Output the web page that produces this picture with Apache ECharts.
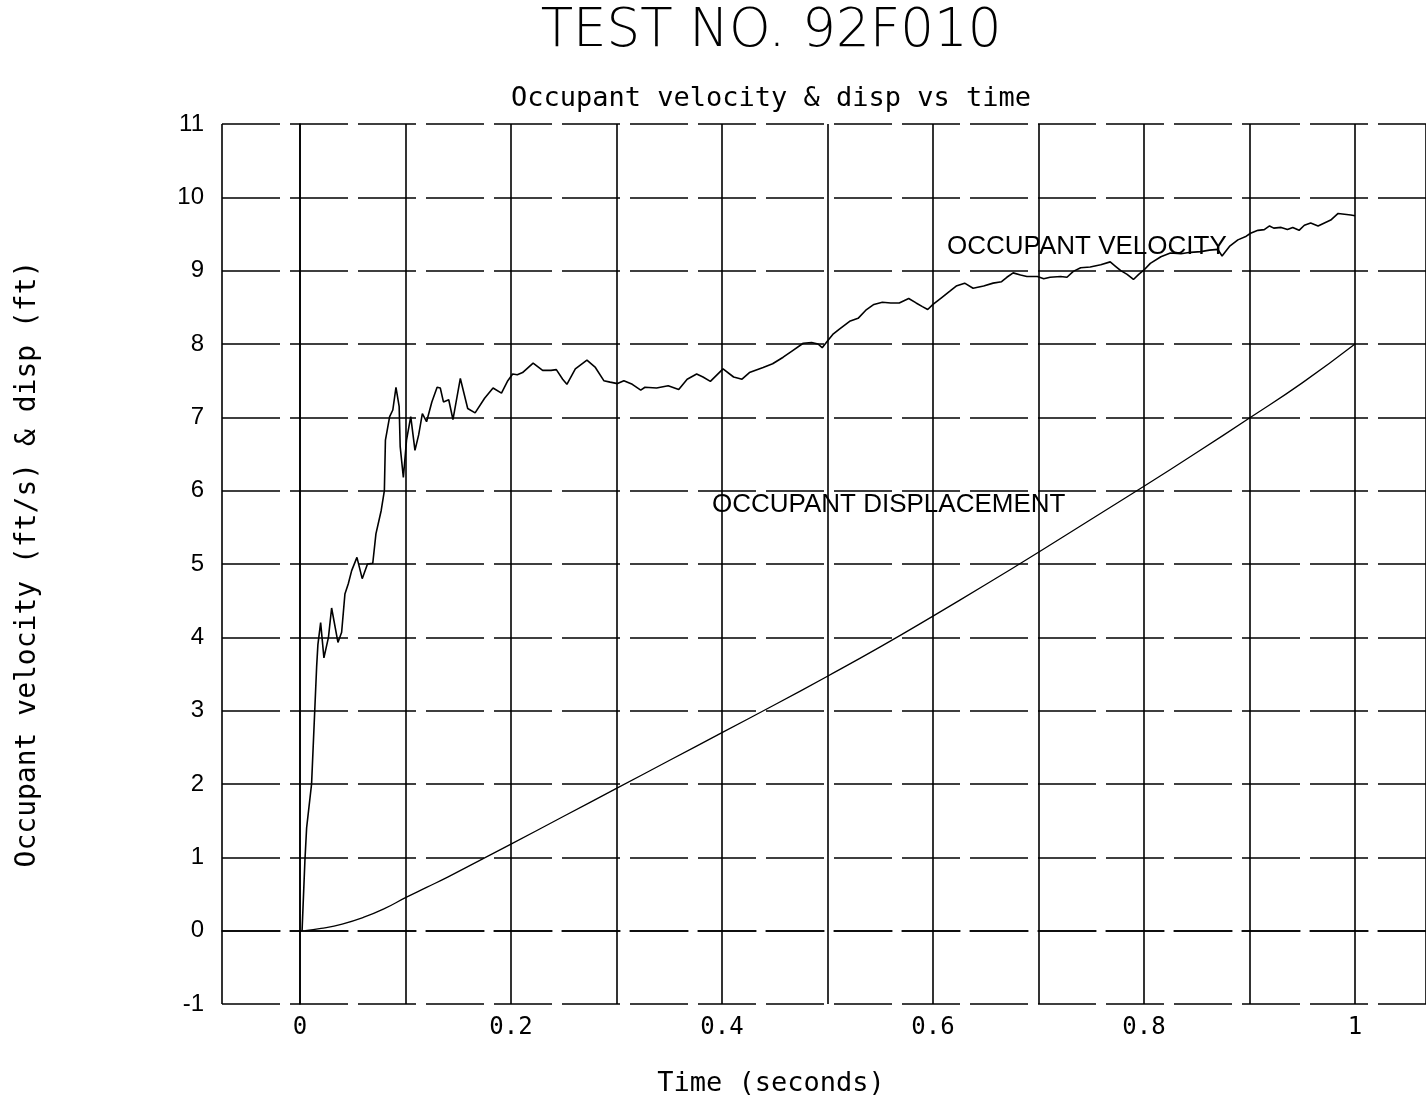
<!DOCTYPE html>
<html>
<head>
<meta charset="utf-8">
<script src="https://cdn.jsdelivr.net/npm/echarts@6/dist/echarts.min.js"></script>
<style>
html,body{margin:0;padding:0;background:#fff;}
#chart{width:1426px;height:1101px;}
</style>
</head>
<body>
<div id="chart"></div>
<script>
// ---- data ----
const velTime = [0.002,0.0047,0.0063,0.011,0.014,0.0158,0.017,0.0196,0.0227,0.027,0.030,0.036,0.0395,0.0426,0.0458,0.049,0.054,0.059,0.064,0.069,0.072,0.077,0.080,0.081,0.085,0.088,0.091,0.094,0.095,0.098,0.101,0.105,0.109,0.1125,0.116,0.120,0.125,0.130,0.133,0.136,0.141,0.145,0.152,0.159,0.166,0.175,0.183,0.191,0.197,0.2016,0.206,0.211,0.221,0.230,0.238,0.243,0.249,0.253,0.261,0.272,0.280,0.288,0.294,0.301,0.307,0.315,0.323,0.327,0.338,0.349,0.359,0.367,0.376,0.382,0.389,0.401,0.411,0.419,0.426,0.439,0.448,0.458,0.467,0.477,0.485,0.491,0.495,0.500,0.505,0.511,0.521,0.529,0.537,0.544,0.552,0.560,0.568,0.577,0.584,0.590,0.595,0.600,0.608,0.616,0.622,0.630,0.638,0.648,0.657,0.665,0.670,0.676,0.683,0.689,0.699,0.705,0.711,0.721,0.727,0.733,0.740,0.749,0.759,0.768,0.773,0.778,0.784,0.790,0.795,0.800,0.806,0.816,0.825,0.835,0.844,0.854,0.862,0.870,0.874,0.881,0.889,0.897,0.901,0.908,0.914,0.919,0.923,0.930,0.936,0.941,0.947,0.952,0.958,0.965,0.971,0.977,0.984,0.990,0.996,1.000];
const velValue = [0,0.96,1.4,2.0,3.0,3.6,3.9,4.2,3.72,4.0,4.4,3.93,4.07,4.59,4.73,4.91,5.09,4.8,5.0,5.01,5.41,5.73,6.0,6.69,7.01,7.10,7.41,7.15,6.60,6.18,6.69,7.01,6.55,6.76,7.05,6.94,7.21,7.41,7.40,7.21,7.24,6.97,7.53,7.12,7.06,7.26,7.40,7.33,7.5,7.59,7.58,7.61,7.74,7.64,7.64,7.65,7.52,7.45,7.66,7.78,7.68,7.5,7.48,7.46,7.5,7.45,7.37,7.41,7.4,7.43,7.38,7.52,7.59,7.55,7.49,7.66,7.55,7.52,7.61,7.68,7.73,7.82,7.91,8.01,8.02,8.0,7.95,8.04,8.13,8.2,8.31,8.35,8.47,8.54,8.57,8.56,8.56,8.62,8.56,8.51,8.47,8.54,8.63,8.72,8.79,8.83,8.76,8.79,8.83,8.85,8.91,8.97,8.94,8.92,8.92,8.89,8.91,8.92,8.91,8.99,9.04,9.05,9.08,9.12,9.06,9.0,8.95,8.88,8.95,9.01,9.1,9.19,9.24,9.23,9.25,9.26,9.28,9.29,9.2,9.33,9.42,9.47,9.51,9.55,9.56,9.61,9.58,9.59,9.56,9.59,9.55,9.62,9.65,9.61,9.65,9.69,9.78,9.77,9.76,9.75];
const dispTime  = [0.005,0.02,0.04,0.06,0.08,0.1,0.12,0.14,0.16,0.18,0.2,0.25,0.3,0.35,0.4,0.45,0.5,0.55,0.6,0.65,0.7,0.75,0.8,0.85,0.9,0.95,1.0];
const dispValue = [0,0.03,0.09,0.18,0.3,0.45,0.59,0.73,0.88,1.03,1.18,1.56,1.94,2.32,2.7,3.08,3.47,3.87,4.29,4.72,5.16,5.61,6.06,6.52,6.99,7.47,8.0];
const xTickValues = [0,0.2,0.4,0.6,0.8,1];
const xTickLabels = ['0','0.2','0.4','0.6','0.8','1'];
const mainTitle = 'TEST NO. 92F010';
const subTitle = 'Occupant velocity & disp vs time';
const xAxisTitle = 'Time (seconds)';
const yAxisTitle = 'Occupant velocity (ft/s) & disp (ft)';
const velLabel = 'OCCUPANT VELOCITY';
const dispLabel = 'OCCUPANT DISPLACEMENT';

const velData = velTime.map((t,i)=>[t, velValue[i]]);
const dispData = dispTime.map((t,i)=>[t, dispValue[i]]);

const chart = echarts.init(document.getElementById('chart'), null, {renderer:'canvas'});
const mono = 'DejaVu Sans Mono';
const hDash = [58, 10];
chart.setOption({
  backgroundColor:'#fff',
  animation:false,
  title:[
    {text: mainTitle, left:771, textAlign:'center', top:6, padding:0,
     textStyle:{fontFamily:'DejaVu Sans', fontSize:53, fontWeight:200, color:'#000'}},
    {text: subTitle, left:771, textAlign:'center', top:85, padding:0,
     textStyle:{fontFamily:mono, fontSize:27, fontWeight:'normal', color:'#000'}}
  ],
  grid:{left:222, top:124, right:0, bottom:97, containLabel:false},
  xAxis:{
    type:'value', min:-0.0739, max:1.0673, splitNumber:11,
    axisLine:{show:true, lineStyle:{color:'#000', width:1.5, type:hDash}},
    axisTick:{show:false},
    axisLabel:{color:'#000', fontFamily:mono, fontSize:24, margin:12, showMinLabel:false, showMaxLabel:false,
      formatter:function(v){
        for (let i=0;i<xTickValues.length;i++){ if (Math.abs(v-xTickValues[i])<1e-6) return xTickLabels[i]; }
        return '';
      }},
    splitLine:{show:true, lineStyle:{color:'#000', width:1.6, type:'solid'}}
  },
  yAxis:{
    type:'value', min:-1, max:11, interval:1,
    name: yAxisTitle, nameLocation:'middle', nameGap:180, nameRotate:90,
    nameTextStyle:{fontFamily:mono, fontSize:28, color:'#000'},
    axisLine:{show:true, lineStyle:{color:'#000', width:1.6}},
    axisTick:{show:false},
    axisLabel:{color:'#000', fontFamily:'Liberation Sans', fontSize:24, margin:18},
    splitLine:{show:true, lineStyle:{color:'#000', width:1.5, type:hDash}}
  },
  series:[
    {type:'line', name:'velocity', data:velData, showSymbol:false, smooth:false,
     lineStyle:{color:'#000', width:1.6}, z:5},
    {type:'line', name:'displacement', data:dispData, showSymbol:false, smooth:true,
     lineStyle:{color:'#000', width:1.3}, z:5}
  ],
  graphic:[
    {type:'text', left:947, top:234, z:10,
     style:{text:velLabel, font:'26px "Liberation Sans"', fill:'#000'}},
    {type:'text', left:712, top:492, z:10,
     style:{text:dispLabel, font:'26px "Liberation Sans"', fill:'#000'}},
    {type:'text', x:771, y:1084, z:10,
     style:{text:xAxisTitle, font:'27px "DejaVu Sans Mono"', fill:'#000', textAlign:'center', textVerticalAlign:'middle'}}
  ]
});
</script>
</body>
</html>
